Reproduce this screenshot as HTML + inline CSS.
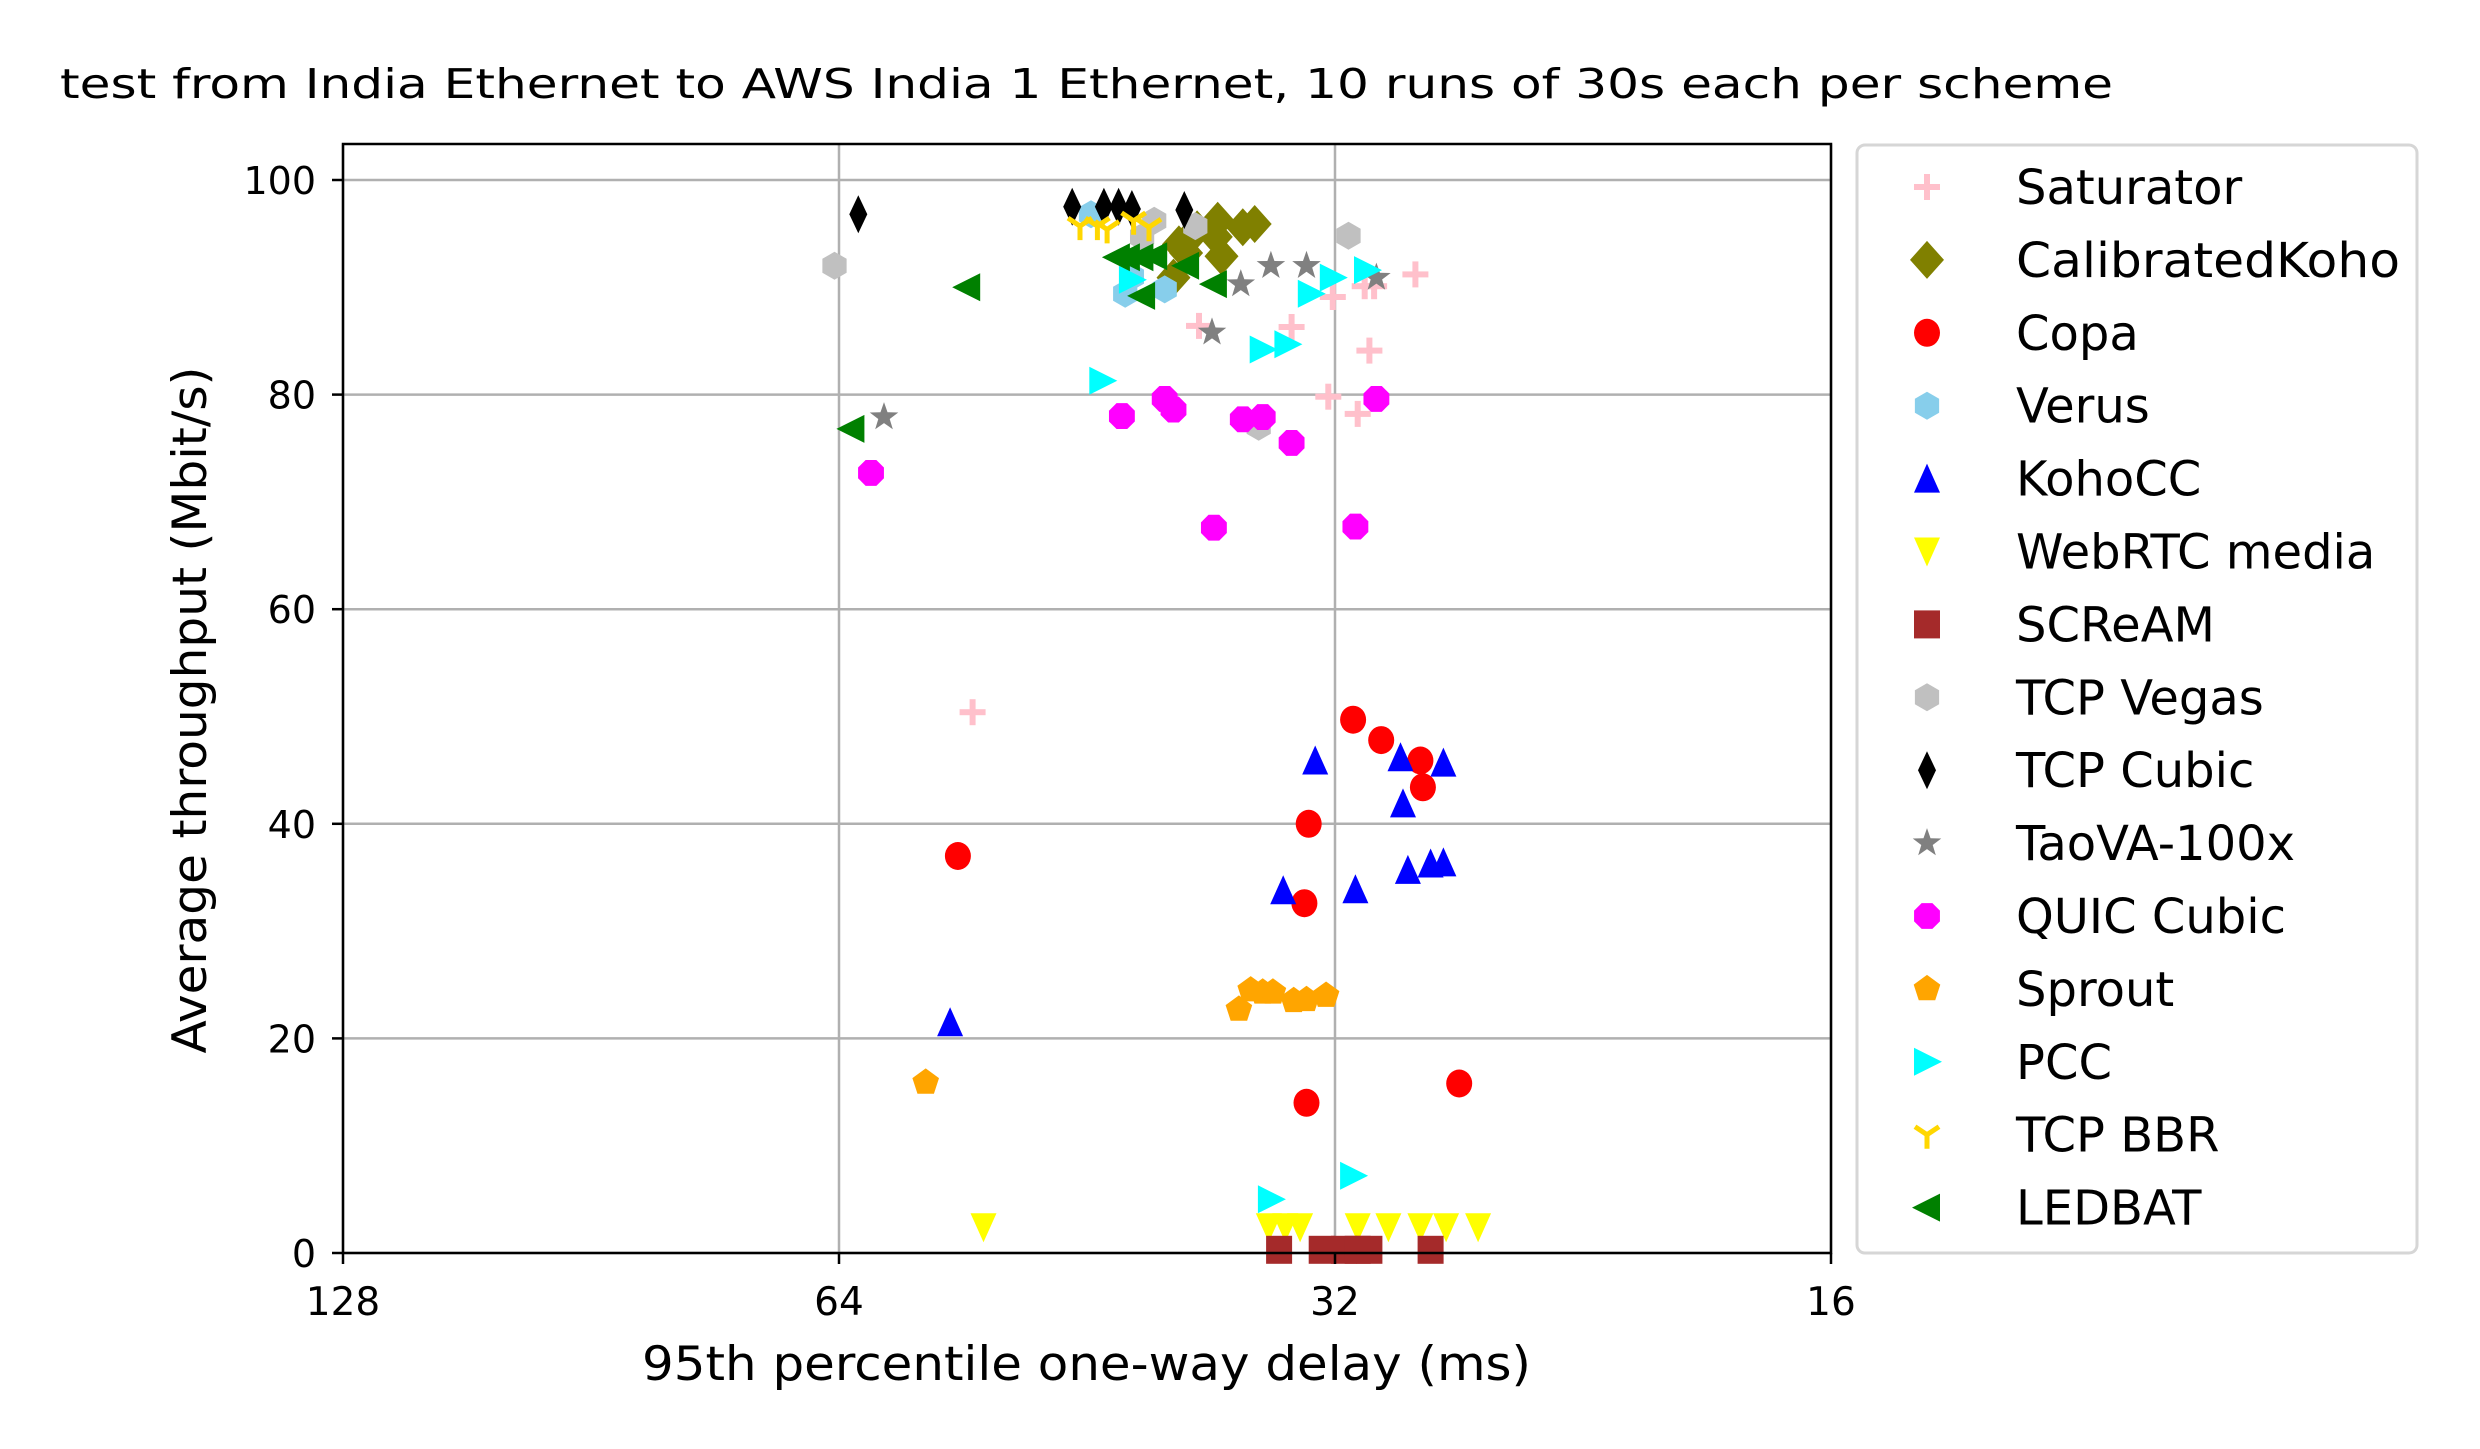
<!DOCTYPE html>
<html><head><meta charset="utf-8"><style>
html,body{margin:0;padding:0;background:#fff;}
svg{display:block;font-family:"DejaVu Sans","Liberation Sans",sans-serif;}
</style></head><body>
<svg id="chart" width="2480" height="1449" viewBox="0 0 2480 1449" xmlns="http://www.w3.org/2000/svg">
<rect width="2480" height="1449" fill="#fff"/>
<text x="60" y="98" font-size="41" textLength="2053" lengthAdjust="spacingAndGlyphs">test from India Ethernet to AWS India 1 Ethernet, 10 runs of 30s each per scheme</text>
<g id="grid"></g>
<g id="marks"></g>
<g id="axes"></g>
<g id="legend"></g>
</svg>
<script>
const xTicks = [128, 64, 32, 16];
const yTicks = [0, 20, 40, 60, 80, 100];
const schemes = ["Saturator","CalibratedKoho","Copa","Verus","KohoCC","WebRTC media","SCReAM","TCP Vegas","TCP Cubic","TaoVA-100x","QUIC Cubic","Sprout","PCC","TCP BBR","LEDBAT"];
const saturatorDelay = [28.6,30.3,30.7,32.1,38.7,34.0,30.5,32.3,31.0,53.1];
const saturatorTput  = [91.2,90.1,90.1,89.1,86.4,86.3,84.1,79.8,78.2,50.4];
const ckDelay = [40.1,39.4,38.8,37.7,37.5,36.4,35.8,37.8,39.8];
const ckTput  = [90.9,93.2,95.4,96.2,92.9,95.6,95.9,94.7,94.0];
const copaDelay = [54.2,33.2,33.4,33.3,31.2,30.0,28.4,28.3,26.9];
const copaTput  = [37.0,40.0,32.6,14.0,49.7,47.8,45.9,43.4,15.8];
const verusDelay = [42.9,40.6,42.5,45.0];
const verusTput  = [89.4,89.8,91.0,96.8];
const kohoDelay = [54.8,32.9,34.4,31.1,29.2,29.1,28.9,28.0,27.5,27.5];
const kohoTput  = [21.5,45.9,33.8,33.9,46.2,41.9,35.7,36.3,36.4,45.7];
const webrtcDelay = [52.3,35.1,34.3,33.6,31.0,29.7,28.4,27.4,26.2];
const webrtcTput  = [2.4,2.4,2.4,2.4,2.4,2.4,2.4,2.4,2.4];
const screamDelay = [34.6,32.6,31.6,31.0,30.5,28.0];
const screamTput  = [0.3,0.3,0.3,0.3,0.3,0.3];
const vegasDelay = [64.4,31.4,41.2,38.9,35.6,41.9];
const vegasTput  = [92.0,94.8,96.2,95.7,77.0,94.7];
const cubicDelay = [62.3,46.2,44.2,43.3,42.5,39.5];
const cubicTput  = [96.8,97.5,97.5,97.5,97.3,97.2];
const taovaDelay = [60.1,38.0,36.5,35.0,33.3,30.2];
const taovaTput  = [77.9,85.8,90.3,92.0,92.0,90.9];
const quicDelay = [61.2,43.1,40.6,40.1,37.9,36.4,35.4,34.0,31.1,30.2];
const quicTput  = [72.7,78.0,79.6,78.6,67.6,77.7,77.9,75.5,67.7,79.6];
const sproutDelay = [56.7,36.6,36.0,35.4,34.9,33.9,33.3,32.4];
const sproutTput  = [15.9,22.7,24.5,24.3,24.3,23.5,23.6,24.0];
const pccDelay = [44.3,35.4,34.2,33.1,32.1,30.6,35.0,31.2,42.5];
const pccTput  = [81.3,84.2,84.7,89.4,90.9,91.6,5.0,7.2,90.7];
const bbrDelay = [45.7,44.6,44.0,41.5,42.4];
const bbrTput  = [95.7,95.7,95.4,95.6,96.2];
const ledbatDelay = [62.9,53.5,43.4,42.8,42.0,41.2,41.9,39.4,37.9];
const ledbatTput  = [76.8,90.0,92.8,92.8,92.8,92.9,89.2,92.0,90.3];

const NS = "http://www.w3.org/2000/svg";
const L = 343, R = 1831, T = 144, B = 1253, Y0 = 1253, Y100 = 180;
function xs(d){ return L + (Math.log2(128) - Math.log2(d)) / 3 * (R - L); }
function ys(v){ return Y0 + (Y100 - Y0) * v / 100; }
function mk(tag, attrs, parent){ const e = document.createElementNS(NS, tag); for (const k in attrs) e.setAttribute(k, attrs[k]); parent.appendChild(e); return e; }

const styles = [
 {c:"#ffc0cb", s:"plus"}, {c:"#808000", s:"diamond"}, {c:"#ff0000", s:"circle"}, {c:"#87ceeb", s:"hexagon"},
 {c:"#0000ff", s:"tri-up"}, {c:"#ffff00", s:"tri-down"}, {c:"#a52a2a", s:"square"}, {c:"#c0c0c0", s:"hexagon"},
 {c:"#000000", s:"thin-diamond"}, {c:"#808080", s:"star"}, {c:"#ff00ff", s:"octagon"}, {c:"#ffa500", s:"pentagon"},
 {c:"#00ffff", s:"tri-right"}, {c:"#ffd700", s:"tri-y"}, {c:"#008000", s:"tri-left"}
];
const series = [
 [saturatorDelay, saturatorTput],[ckDelay, ckTput],[copaDelay, copaTput],[verusDelay, verusTput],[kohoDelay, kohoTput],
 [webrtcDelay, webrtcTput],[screamDelay, screamTput],[vegasDelay, vegasTput],[cubicDelay, cubicTput],[taovaDelay, taovaTput],
 [quicDelay, quicTput],[sproutDelay, sproutTput],[pccDelay, pccTput],[bbrDelay, bbrTput],[ledbatDelay, ledbatTput]
];

function poly(n, r, rot){ const p=[]; for(let i=0;i<n;i++){ const a=rot+i*2*Math.PI/n; p.push((r*Math.cos(a)).toFixed(2)+","+(r*Math.sin(a)).toFixed(2)); } return p.join(" "); }
function marker(shape, color, x, y, parent){
  const g = mk("g", {transform:`translate(${x.toFixed(1)},${y.toFixed(1)})`}, parent);
  if (shape==="circle") mk("ellipse",{cx:0,cy:0,rx:13,ry:14,fill:color},g);
  else if (shape==="square") mk("rect",{x:-13,y:-14,width:26,height:28,fill:color},g);
  else if (shape==="diamond") mk("polygon",{points:"0,-19 17,0 0,19 -17,0",fill:color},g);
  else if (shape==="thin-diamond") mk("polygon",{points:"0,-19 9,0 0,19 -9,0",fill:color},g);
  else if (shape==="tri-up") mk("polygon",{points:"0,-15 13,14 -13,14",fill:color},g);
  else if (shape==="tri-down") mk("polygon",{points:"0,15 13,-14 -13,-14",fill:color},g);
  else if (shape==="tri-right") mk("polygon",{points:"15,0 -13,-14 -13,14",fill:color},g);
  else if (shape==="tri-left") mk("polygon",{points:"-15,0 13,-14 13,14",fill:color},g);
  else if (shape==="hexagon") mk("polygon",{points:poly(6,14,-Math.PI/2),fill:color},g);
  else if (shape==="octagon") mk("polygon",{points:poly(8,14,Math.PI/8),fill:color},g);
  else if (shape==="pentagon") mk("polygon",{points:poly(5,14,-Math.PI/2),fill:color},g);
  else if (shape==="star"){ const p=[]; for(let i=0;i<10;i++){ const a=-Math.PI/2+i*Math.PI/5, rr=i%2?6:15; p.push((rr*Math.cos(a)).toFixed(2)+","+(rr*Math.sin(a)).toFixed(2)); } mk("polygon",{points:p.join(" "),fill:color},g); }
  else if (shape==="plus"){ mk("rect",{x:-3,y:-13,width:6,height:26,fill:color},g); mk("rect",{x:-13,y:-3,width:26,height:6,fill:color},g); }
  else if (shape==="tri-y"){ mk("path",{d:"M0,0 L0,14 M0,0 L-12,-8 M0,0 L12,-8",stroke:color,"stroke-width":5,fill:"none"},g); }
  return g;
}

const grid = document.getElementById("grid");
xTicks.forEach(t => { const l = mk("line",{x1:xs(t),x2:xs(t),y1:T,y2:B,stroke:"#b0b0b0","stroke-width":2.5},grid);
  
   });
yTicks.forEach(t => { const l = mk("line",{x1:L,x2:R,y1:ys(t),y2:ys(t),stroke:"#b0b0b0","stroke-width":2.5},grid);
  
   });

const marks = document.getElementById("marks");
series.forEach((s, i) => {
  const g = mk("g", {}, marks);
  
  
  s[0].forEach((d, j) => {
    const m = marker(styles[i].s, styles[i].c, xs(d), ys(s[1][j]), g);
    
    
  });
});

const axes = document.getElementById("axes");
const frame = mk("rect",{x:L,y:T,width:R-L,height:B-T,fill:"none",stroke:"#000","stroke-width":2.5},axes);


xTicks.forEach(t => {
  mk("line",{x1:xs(t),x2:xs(t),y1:B,y2:B+11,stroke:"#000","stroke-width":2.5},axes);
  const tx = mk("text",{x:xs(t),y:1315,"font-size":39,"text-anchor":"middle"},axes);
  tx.textContent = t;
  
  
});
yTicks.forEach(t => {
  mk("line",{x1:L-11,x2:L,y1:ys(t),y2:ys(t),stroke:"#000","stroke-width":2.5},axes);
  const tx = mk("text",{x:316,y:ys(t)+14,"font-size":38,"text-anchor":"end"},axes);
  tx.textContent = t;
  
  
});
const xl = mk("text",{x:642,y:1380,"font-size":47,textLength:889,lengthAdjust:"spacingAndGlyphs"},axes);
xl.textContent = "95th percentile one-way delay (ms)";


const yl = mk("text",{x:0,y:0,"font-size":47,"text-anchor":"middle",textLength:687,lengthAdjust:"spacingAndGlyphs",transform:"translate(206,710) rotate(-90)"},axes);
yl.textContent = "Average throughput (Mbit/s)";



const leg = document.getElementById("legend");


mk("rect",{x:1857,y:145,width:560,height:1108,rx:8,fill:"#fff",stroke:"#d6d6d6","stroke-width":3},leg);
schemes.forEach((name, i) => {
  const cy = 187 + i * 72.9;
  const g = mk("g", {}, leg);
  
  
  marker(styles[i].s, styles[i].c, 1927, cy, g);
  const attrs = {x:2016,y:cy+17,"font-size":48};
  if (name === "CalibratedKoho") { attrs.textLength = 384; attrs.lengthAdjust = "spacingAndGlyphs"; }
  const tx = mk("text",attrs,g);
  tx.textContent = name;
});
</script>
</body></html>
